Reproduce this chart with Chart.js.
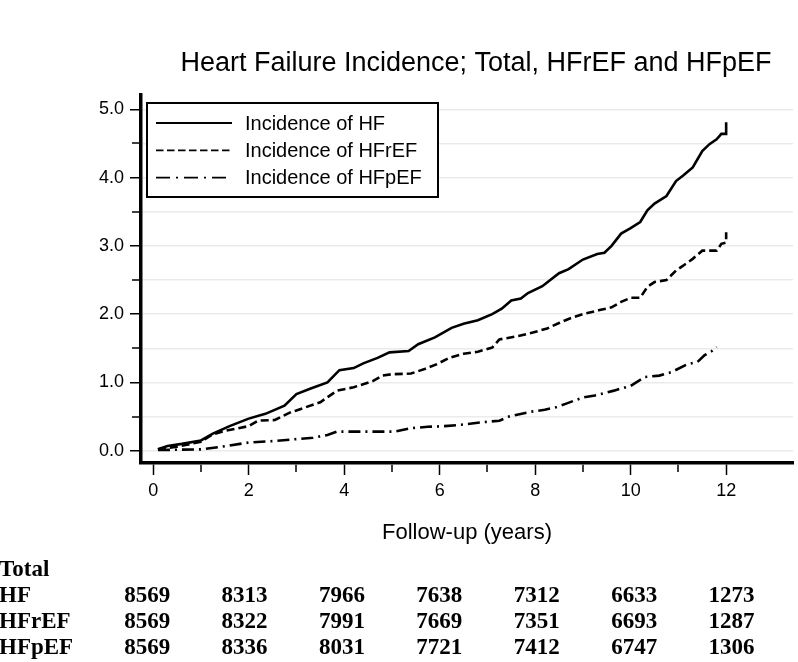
<!DOCTYPE html>
<html>
<head>
<meta charset="utf-8">
<script src="https://cdn.jsdelivr.net/npm/chart.js@4.4.1/dist/chart.umd.min.js"></script>
<style>
  html, body { margin: 0; padding: 0; background: #fff; }
</style>
</head>
<body>
<canvas id="hfChart" width="798" height="662"></canvas>
<script>
// cumulative incidence (%), time in years
const timeHF = [0.1, 0.3, 0.6, 1.0, 1.25, 1.6, 2.0, 2.35, 2.75, 3.0, 3.3, 3.65, 3.9, 4.2, 4.4, 4.7, 4.95, 5.35, 5.55, 5.9, 6.25, 6.5, 6.8, 7.1, 7.3, 7.5, 7.7, 7.85, 8.15, 8.5, 8.7, 9.0, 9.3, 9.45, 9.6, 9.8, 10.0, 10.2, 10.35, 10.5, 10.75, 10.95, 11.1, 11.3, 11.5, 11.65, 11.8, 11.9, 12.0, 12.0];
const incHF = [0.02, 0.07, 0.10, 0.15, 0.25, 0.36, 0.47, 0.54, 0.66, 0.83, 0.91, 1.00, 1.18, 1.21, 1.28, 1.36, 1.44, 1.46, 1.56, 1.66, 1.80, 1.86, 1.91, 2.00, 2.08, 2.20, 2.23, 2.31, 2.41, 2.60, 2.66, 2.80, 2.88, 2.90, 3.00, 3.18, 3.26, 3.35, 3.52, 3.62, 3.73, 3.95, 4.03, 4.15, 4.39, 4.49, 4.56, 4.64, 4.64, 4.81];

const timeHFrEF = [0.1, 0.5, 1.0, 1.25, 1.5, 2.0, 2.2, 2.55, 2.9, 3.0, 3.5, 3.85, 4.2, 4.6, 4.8, 5.0, 5.4, 5.7, 5.95, 6.2, 6.5, 6.8, 7.1, 7.25, 7.65, 7.95, 8.25, 8.5, 8.7, 9.0, 9.35, 9.6, 9.8, 10.0, 10.2, 10.35, 10.5, 10.75, 10.95, 11.1, 11.3, 11.5, 11.8, 11.9, 12.0, 12.0];
const incHFrEF = [0.02, 0.06, 0.13, 0.24, 0.29, 0.36, 0.44, 0.45, 0.57, 0.59, 0.71, 0.88, 0.93, 1.02, 1.10, 1.12, 1.13, 1.20, 1.27, 1.36, 1.42, 1.45, 1.51, 1.63, 1.68, 1.73, 1.79, 1.87, 1.93, 2.00, 2.06, 2.10, 2.18, 2.24, 2.24, 2.40, 2.47, 2.50, 2.64, 2.71, 2.81, 2.93, 2.93, 3.03, 3.05, 3.20];

const timeHFpEF = [0.1, 1.0, 1.45, 2.0, 2.5, 3.0, 3.35, 3.65, 3.85, 5.05, 5.4, 5.75, 6.1, 6.45, 6.8, 7.25, 7.45, 7.9, 8.2, 8.45, 8.65, 9.0, 9.25, 9.65, 10.0, 10.3, 10.6, 10.85, 11.2, 11.4, 11.55, 11.7, 11.8];
const incHFpEF = [0.01, 0.02, 0.06, 0.12, 0.14, 0.17, 0.19, 0.23, 0.28, 0.28, 0.33, 0.35, 0.36, 0.38, 0.41, 0.44, 0.50, 0.57, 0.60, 0.64, 0.69, 0.78, 0.81, 0.88, 0.95, 1.08, 1.10, 1.15, 1.27, 1.30, 1.40, 1.46, 1.52];

const seriesNames = ['Incidence of HF', 'Incidence of HFrEF', 'Incidence of HFpEF'];
const chartTitle = 'Heart Failure Incidence; Total, HFrEF and HFpEF';
const xTitle = 'Follow-up (years)';

// numbers at risk table
const riskYears = [0, 2, 4, 6, 8, 10, 12];
const riskLabels = ['HF', 'HFrEF', 'HFpEF'];
const riskHF = [8569, 8313, 7966, 7638, 7312, 6633, 1273];
const riskHFrEF = [8569, 8322, 7991, 7669, 7351, 6693, 1287];
const riskHFpEF = [8569, 8336, 8031, 7721, 7412, 6747, 1306];

const SANS = '"Liberation Sans", Arial, sans-serif';
const SERIF = '"Liberation Serif", "Times New Roman", serif';
Chart.defaults.font.family = SANS;
Chart.defaults.color = '#000';

function toPoints(xs, ys) {
  return xs.map((x, i) => ({ x: x, y: ys[i] }));
}

// title, legend box, short minor ticks and the at-risk table
const extrasPlugin = {
  id: 'extras',
  afterDraw(chart) {
    const c = chart.ctx;
    const area = chart.chartArea;
    const xs = chart.scales.x;
    const ys = chart.scales.y;
    c.save();

    // minor ticks
    c.strokeStyle = '#000';
    c.lineWidth = 1.5;
    c.beginPath();
    for (let v = 1; v <= 11; v += 2) {
      const px = Math.round(xs.getPixelForValue(v));
      c.moveTo(px, area.bottom + 1.75);
      c.lineTo(px, area.bottom + 9);
    }
    for (let v = 0.5; v < 5; v += 1) {
      const py = Math.round(ys.getPixelForValue(v));
      c.moveTo(area.left - 1.75, py);
      c.lineTo(area.left - 9, py);
    }
    c.stroke();

    // title
    c.fillStyle = '#000';
    c.font = '27px ' + SANS;
    c.textAlign = 'center';
    c.textBaseline = 'alphabetic';
    c.fillText(chartTitle, 476, 71);

    // legend
    const lx = 147, ly = 103, lw = 291, lh = 94;
    c.fillStyle = '#fff';
    c.fillRect(lx, ly, lw, lh);
    c.strokeStyle = '#000';
    c.lineWidth = 2;
    c.strokeRect(lx, ly, lw, lh);
    c.font = '20px ' + SANS;
    c.textAlign = 'left';
    c.textBaseline = 'middle';
    chart.data.datasets.forEach((ds, i) => {
      const yy = 123 + i * 27.3;
      c.beginPath();
      c.setLineDash(ds.legendDash || []);
      c.lineWidth = 1.8;
      c.moveTo(156, yy);
      c.lineTo(232, yy);
      c.stroke();
      c.setLineDash([]);
      c.fillStyle = '#000';
      c.fillText(ds.label, 245, yy + 1);
    });

    // at-risk table
    const rows = [riskHF, riskHFrEF, riskHFpEF];
    c.font = 'bold 23px ' + SERIF;
    c.textBaseline = 'alphabetic';
    c.textAlign = 'left';
    c.fillText('Total', -1, 576);
    rows.forEach((row, r) => {
      const yy = 602 + r * 26;
      c.textAlign = 'left';
      c.fillText(riskLabels[r], -1, yy);
      c.textAlign = 'center';
      row.forEach((n, k) => {
        const px = xs.getPixelForValue(riskYears[k]) - 6 + k * 1.9;
        c.fillText(String(n), px, yy);
      });
    });
    c.restore();
  }
};

const ctx = document.getElementById('hfChart');

const hfChart = new Chart(ctx, {
  type: 'line',
  data: {
    datasets: [
      {
        label: seriesNames[0],
        data: toPoints(timeHF, incHF),
        borderColor: '#000',
        borderWidth: 2.6,
      },
      {
        label: seriesNames[1],
        data: toPoints(timeHFrEF, incHFrEF),
        borderColor: '#000',
        borderWidth: 2.6,
        borderDash: [8, 4],
        legendDash: [7.5, 3.5],
      },
      {
        label: seriesNames[2],
        data: toPoints(timeHFpEF, incHFpEF),
        borderColor: '#000',
        borderWidth: 2.6,
        borderDash: [12, 5, 2, 5],
        legendDash: [14, 6, 2, 6],
      }
    ]
  },
  options: {
    responsive: false,
    animation: false,
    devicePixelRatio: 1,
    elements: {
      point: { radius: 0 },
      line: { tension: 0, fill: false }
    },
    layout: {
      padding: { top: 95, right: 5, bottom: 109, left: 0 }
    },
    scales: {
      x: {
        type: 'linear',
        min: -0.255,
        max: 13.4,
        afterBuildTicks: function (scale) {
          scale.ticks = scale.ticks.filter(t => t.value >= 0 && t.value <= 12);
        },
        afterFit: function (scale) {
          scale.height = 90;
        },
        ticks: {
          stepSize: 1,
          includeBounds: false,
          autoSkip: false,
          maxRotation: 0,
          padding: 5,
          font: { size: 18 },
          callback: function (v) {
            return v % 2 === 0 ? String(v) : '';
          }
        },
        grid: {
          drawOnChartArea: false,
          drawTicks: true,
          tickLength: 12,
          tickWidth: 1.5,
          tickColor: function (context) {
            return context.tick && context.tick.value % 2 === 0 ? '#000' : 'rgba(0,0,0,0)';
          }
        },
        border: { display: true, color: '#000', width: 3.5 },
        title: {
          display: true,
          text: xTitle,
          font: { size: 22 },
          padding: { top: 0, bottom: 7 }
        }
      },
      y: {
        type: 'linear',
        min: -0.18,
        max: 5.21,
        afterBuildTicks: function (scale) {
          scale.ticks = scale.ticks.filter(t => t.value >= 0 && t.value <= 5);
        },
        afterFit: function (scale) {
          scale.width = 141;
        },
        ticks: {
          stepSize: 0.5,
          includeBounds: false,
          padding: 6,
          font: { size: 18 },
          callback: function (v) {
            return Number.isInteger(v) ? v.toFixed(1) : '';
          }
        },
        grid: {
          color: '#ebebeb',
          lineWidth: 1.5,
          drawTicks: true,
          tickLength: 11,
          tickWidth: 1.5,
          tickColor: function (context) {
            return context.tick && Number.isInteger(context.tick.value) ? '#000' : 'rgba(0,0,0,0)';
          }
        },
        border: { display: true, color: '#000', width: 3.5 }
      }
    },
    plugins: {
      legend: { display: false },
      title: { display: false },
      tooltip: { enabled: false }
    }
  },
  plugins: [extrasPlugin]
});
</script>
</body>
</html>
